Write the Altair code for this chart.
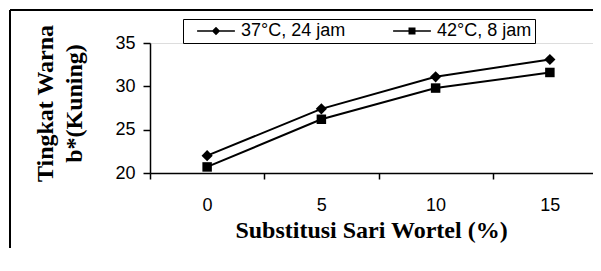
import altair as alt
import pandas as pd

substitusi = [0, 5, 10, 15]
series_names = ["37°C, 24 jam", "42°C, 8 jam"]
b_37 = [22.0, 27.4, 31.1, 33.1]
b_42 = [20.7, 26.2, 29.8, 31.6]
tick_edges = [-2.5, 2.5, 7.5, 12.5]

rows = []
for s, v in zip(substitusi, b_37):
    rows.append({"x": s, "y": v, "series": series_names[0]})
for s, v in zip(substitusi, b_42):
    rows.append({"x": s, "y": v, "series": series_names[1]})
df = pd.DataFrame(rows)

TITLE_FONT = "Liberation Serif"
SANS = "Liberation Sans"

W = 443
x_enc = alt.X(
    "x:Q",
    scale=alt.Scale(domain=[-2.5, -2.5 + 20 * W / 457], nice=False, zero=False),
    axis=alt.Axis(
        title="Substitusi Sari Wortel (%)",
        titleFont=TITLE_FONT, titleFontSize=24, titleFontWeight="bold",
        titleColor="black", titleX=221, titleY=64, titleBaseline="alphabetic",
        labelFont=SANS, labelFontSize=18, labelColor="black", labelAngle=0,
        labelPadding=17, values=tick_edges, labelExpr="'' + (datum.value + 2.5)",
        labelOffset=57, labelFlush=False, labelOverlap=False, labelBound=False,
        tickSize=6, tickColor="black", grid=False,
        domainColor="black", tickWidth=1.5, domainWidth=1.5,
    ),
)
y_enc = alt.Y(
    "y:Q",
    scale=alt.Scale(domain=[20, 35], nice=False, zero=False),
    axis=alt.Axis(
        title=["Tingkat Warna", "b*(Kuning)"],
        titleFont=TITLE_FONT, titleFontSize=24, titleFontWeight="bold",
        titleColor="black", titleAngle=270, titleX=-98, titleY=60,
        titleBaseline="alphabetic", titleAlign="center", titleLineHeight=29,
        labelFont=SANS, labelFontSize=18, labelColor="black",
        labelPadding=8, values=[20, 25, 30, 35], tickSize=7, tickColor="black",
        domainColor="black", grid=False, tickWidth=1.5, domainWidth=1.5,
    ),
)

base = alt.Chart(df)

lines = base.mark_line(color="black", strokeWidth=2).encode(
    x=x_enc, y=y_enc, detail="series:N"
)
pts37 = base.transform_filter(alt.datum.series == series_names[0]).mark_point(
    shape="diamond", size=125, filled=True, color="black", opacity=1
).encode(x=x_enc, y=y_enc)
pts42 = base.transform_filter(alt.datum.series == series_names[1]).mark_point(
    shape="square", size=90, filled=True, color="black", opacity=1
).encode(x=x_enc, y=y_enc)

# legend glyphs (unit = 7px): a thin bar through a marker, all filled
legend_paths = [
    "M-2.7,-0.1H2.7V0.1H-2.7ZM-0.6,0L0,-0.6L0.6,0L0,0.6Z",
    "M-2.7,-0.1H2.7V0.1H-2.7ZM-0.5,-0.5H0.5V0.5H-0.5Z",
]
pad_nbsp = "\u00a0" * 8
legend_layer = base.transform_filter("false").mark_point(
    filled=True, color="black", size=196, opacity=1
).encode(
    x=x_enc, y=y_enc,
    shape=alt.Shape(
        "series:N",
        scale=alt.Scale(domain=series_names, range=legend_paths),
        legend=alt.Legend(
            title=None, orient="none", legendX=33, legendY=-24,
            direction="horizontal", columns=2, columnPadding=36,
            padding=3, strokeColor="black", fillColor="white",
            symbolSize=196, symbolStrokeWidth=0, symbolFillColor="black",
            symbolOffset=21, labelOffset=16,
            labelFont=SANS, labelFontSize=18, labelColor="black",
            labelExpr="datum.index == 1 ? datum.label + '" + pad_nbsp + "' : datum.label",
        ),
    ),
)

frame_df = pd.DataFrame({"a": [0]})
frame_top = alt.Chart(frame_df).mark_rule(color="black", strokeWidth=2).encode(
    x=alt.value(-140), x2=alt.value(520), y=alt.value(-33)
)
frame_left = alt.Chart(frame_df).mark_rule(color="black", strokeWidth=2).encode(
    x=alt.value(-140), y=alt.value(-33), y2=alt.value(300)
)

chart = alt.layer(frame_top, frame_left, lines, pts37, pts42, legend_layer).properties(
    width=W, height=130,
    autosize=alt.AutoSizeParams(type="none"),
    padding={"left": 142, "top": 35, "right": 0, "bottom": 75},
).configure_view(stroke=None).configure(background="white")

chart.save("out.html", embed_options={"renderer": "svg", "actions": False})
